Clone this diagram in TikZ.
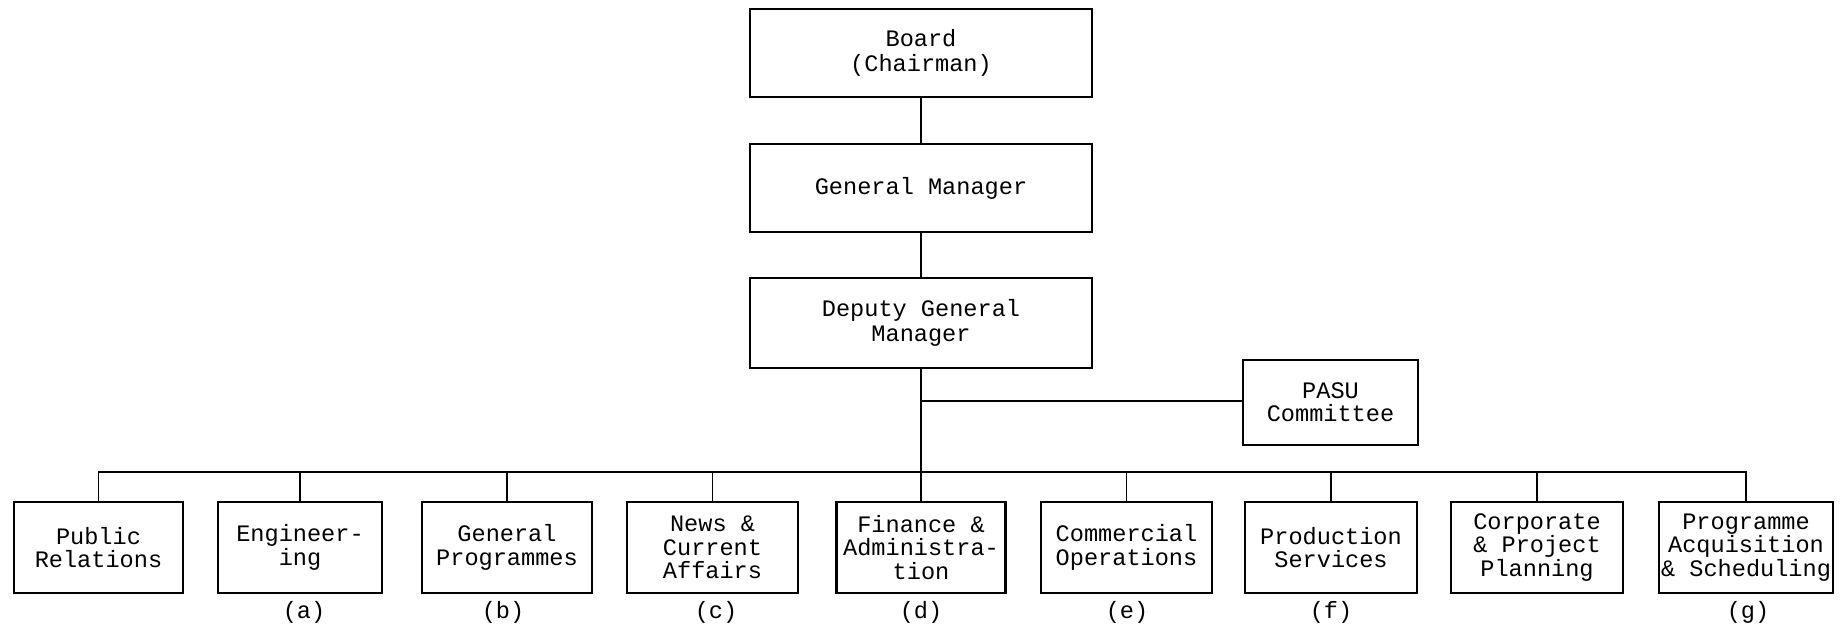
\documentclass[tikz,border=0pt]{standalone}
\usepackage{fontspec}
\setmainfont{Liberation Mono}
\begin{document}
\begin{tikzpicture}[x=0.5pt,y=-0.5pt,
  box/.style={draw=black, line width=1.2pt, inner sep=0pt, align=center,
    font=\fontsize{11.8pt}{11.7pt}\selectfont, minimum height=45.5pt},
  topbox/.style={box, font=\fontsize{11.8pt}{12.4pt}\selectfont, minimum width=171pt, minimum height=44pt},
  conn/.style={draw=black, line width=0.9pt},
  lbl/.style={inner sep=0pt, font=\fontsize{11.8pt}{12pt}\selectfont}]
\useasboundingbox (0,0) rectangle (1841,631);
% top chain
\node[topbox] (board) at (921,53) {Board\\(Chairman)};
\node[topbox] (gm) at (921,188) {General Manager};
\node[topbox, minimum height=45pt] (dgm) at (921,323) {Deputy General\\Manager};
\node[box, minimum width=87.5pt, minimum height=42.5pt] (pasu) at (1330.5,402.5) {PASU\\Committee};
% bottom row
\node[box, minimum width=84.5pt] (pr)   at (98.5,547.5) {Public\\Relations};
\node[box, minimum width=82pt]   (eng)  at (300,547.5) {Engineer-\\ing};
\node[box, minimum width=85pt]   (gp)   at (507,547.5) {General\\Programmes};
\node[box, minimum width=85.5pt] (news) at (712.5,547.5) {News \&\\Current\\Affairs};
\node[box, minimum width=84.5pt] (fin)  at (921,547.5) {Finance \&\\Administra-\\tion};
\node[box, minimum width=85.5pt] (com)  at (1126.5,547.5) {Commercial\\Operations};
\node[box, minimum width=86pt]   (prod) at (1331,547.5) {Production\\Services};
\node[box, minimum width=86pt]   (corp) at (1537,547.5) {Corporate\\\& Project\\Planning};
\node[box, minimum width=87pt]   (prog) at (1746,547.5) {Programme\\Acquisition\\\& Scheduling};
% labels
\node[lbl] (la) at (304,612) {(a)};
\node[lbl] (lb) at (503,612) {(b)};
\node[lbl] (lc) at (716,612) {(c)};
\node[lbl] (ld) at (921,612) {(d)};
\node[lbl] (le) at (1127,612) {(e)};
\node[lbl] (lf) at (1331,612) {(f)};
\node[lbl] (lg) at (1748,612) {(g)};
% connectors
\coordinate (bus) at (921,472);
\coordinate (pj) at (921,401);
\draw[conn] (board.south) -- (gm.north);
\draw[conn] (gm.south) -- (dgm.north);
\draw[conn] (dgm.south) -- (fin.north);
\draw[conn] (pj) -- (pj -| pasu.west);
\draw[conn] (pr.north) |- (bus) -| (prog.north);
\foreach \n in {eng,gp,news,com,prod,corp}{
  \draw[conn] (\n.north) -- (\n.north |- bus);
}
\end{tikzpicture}
\end{document}
